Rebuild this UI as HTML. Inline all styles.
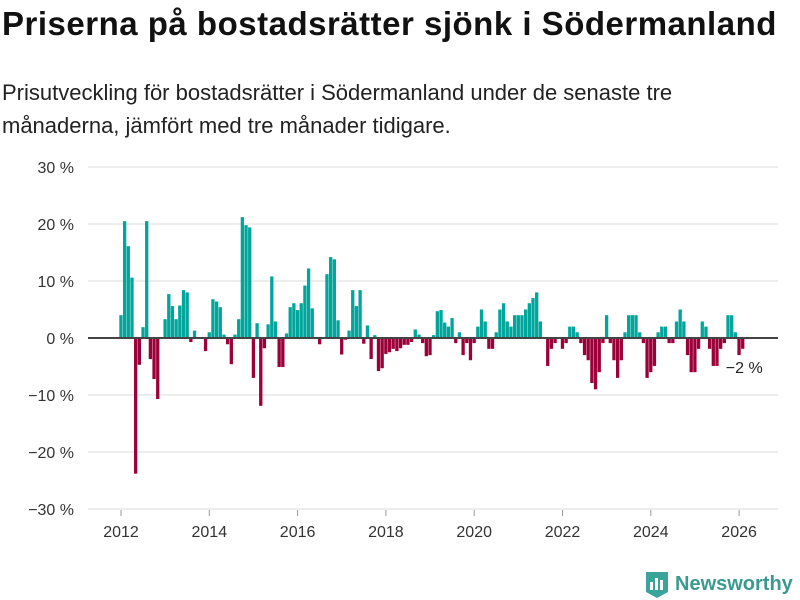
<!DOCTYPE html>
<html><head><meta charset="utf-8"><style>
body{margin:0;background:#fff;font-family:"Liberation Sans","DejaVu Sans",sans-serif;}
#wrap{position:relative;width:800px;height:600px;overflow:hidden;}
h1{position:absolute;left:2px;top:5px;margin:0;font-size:33px;font-weight:bold;color:#111;letter-spacing:0.5px;white-space:nowrap;}
p{position:absolute;left:2px;top:76px;margin:0;font-size:22px;line-height:33px;color:#222;width:755px;}
</style></head><body><div id="wrap">
<h1>Priserna på bostadsrätter sjönk i Södermanland</h1>
<p>Prisutveckling för bostadsrätter i Södermanland under de senaste tre månaderna, jämfört med tre månader tidigare.</p>
<svg id="chart" width="800" height="600" style="position:absolute;left:0;top:0"></svg>
</div>
<script>
const startYear = 2012;
const yTicks = [30, 20, 10, 0, -10, -20, -30];
const xTicks = [2012, 2014, 2016, 2018, 2020, 2022, 2024, 2026];
const values = [4.0,20.5,16.1,10.6,-23.8,-4.7,1.9,20.5,-3.7,-7.2,-10.7,0,
3.3,7.7,5.6,3.3,5.7,8.4,8.0,-0.7,1.3,0,0,-2.3,
1.0,6.8,6.4,5.4,0.6,-1.1,-4.6,0.6,3.3,21.2,19.8,19.4,
-7.0,2.6,-11.9,-1.8,2.4,10.8,2.9,-5.1,-5.1,0.8,5.4,6.1,
4.9,6.1,9.2,12.2,5.2,0,-1.1,0,11.2,14.2,13.8,3.1,
-2.9,-0.3,1.3,8.4,5.6,8.4,-1.0,2.2,-3.7,0.5,-5.8,-5.3,
-2.8,-2.5,-1.9,-2.3,-1.8,-1.2,-1.2,-0.7,1.5,0.6,-0.9,-3.2,
-3.0,0.5,4.7,4.9,2.7,2.0,3.5,-0.9,1.0,-3.0,-0.9,-3.9,
-0.9,2.0,5.0,2.9,-1.9,-1.9,1.0,5.0,6.1,2.9,2.0,4.0,
4.0,4.0,5.0,6.1,7.0,8.0,2.9,0,-4.9,-1.9,-0.9,0,
-1.9,-0.9,2.0,2.0,1.0,-0.9,-3.0,-3.9,-7.9,-9.0,-6.0,-0.9,
4.0,-0.9,-3.9,-7.0,-3.9,1.0,4.0,4.0,4.0,1.0,-0.9,-7.0,
-6.0,-4.9,1.0,2.0,2.0,-0.9,-0.9,2.9,5.0,2.9,-3.0,-6.0,
-6.0,-1.9,2.9,2.0,-1.9,-4.9,-4.9,-1.9,-0.9,4.0,4.0,1.0,
-3.0,-1.9];
const lastLabel = "−2 %";

const NS="http://www.w3.org/2000/svg";
const svg=document.getElementById('chart');
const x=v=>121+(v-2012)*44.15;
const y=v=>338-v*5.7;
function mk(tag,attrs){const e=document.createElementNS(NS,tag);for(const k in attrs)e.setAttribute(k,attrs[k]);svg.appendChild(e);return e;}
yTicks.forEach(t=>{
  const g=mk('line',{x1:88,x2:778,y1:y(t),y2:y(t),stroke:'#e2e2e2','stroke-width':1.3});
  
  
  const tx=mk('text',{x:74,y:y(t)+6,'text-anchor':'end','font-size':16,fill:'#333'});
  tx.textContent=(t<0?'−'+(-t):t)+' %';
  
  
});
xTicks.forEach(t=>{
  const l=mk('line',{x1:x(t),x2:x(t),y1:510,y2:516,stroke:'#999','stroke-width':1});
  
  
  const tx=mk('text',{x:x(t),y:537,'text-anchor':'middle','font-size':16,fill:'#333'});
  tx.textContent=t;
  
  
});
values.forEach((v,i)=>{
  if(v===0)return;
  const cx=x(startYear+i/12);
  const r=mk('rect',{x:cx-1.7,width:3.3,y:Math.min(y(v),y(0)),height:Math.abs(y(v)-y(0)),fill:v>0?'#00a59b':'#9b0039'});
  
  
});
const z=mk('line',{x1:88,x2:778,y1:y(0),y2:y(0),stroke:'#444','stroke-width':2});


const li=values.length-1;
const lb=mk('text',{x:x(startYear+li/12)-17,y:y(values[li])+24,'font-size':16,fill:'#222'});
lb.textContent=lastLabel;


const logo=mk('g',{});


logo.innerHTML='<path d="M646 572 h22 v20 l-11 6 l-11 -6 z" fill="#3aa39a"/><rect x="650" y="582" width="3" height="8" fill="#fff"/><rect x="655" y="578" width="3" height="12" fill="#fff"/><rect x="660" y="580" width="3" height="10" fill="#fff"/><text x="675" y="590" font-size="20" font-weight="bold" fill="#3a9a90">Newsworthy</text>';
</script></body></html>
